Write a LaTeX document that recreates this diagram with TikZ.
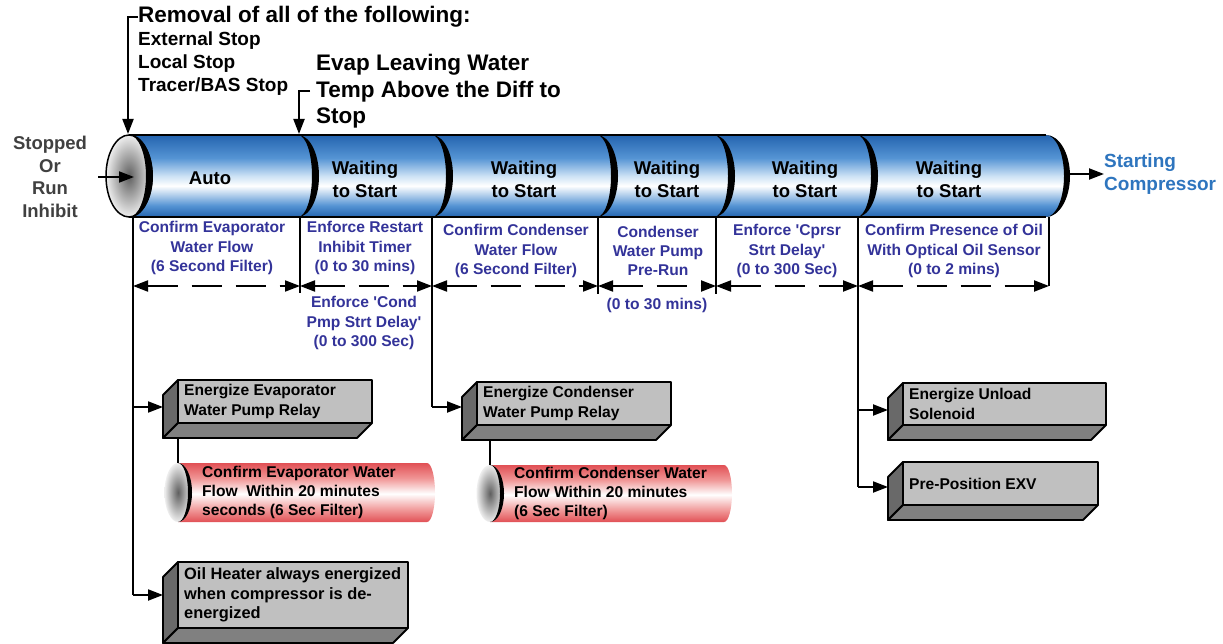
\documentclass[tikz,border=0pt]{standalone}
\usepackage{fontspec}
\setmainfont{Liberation Sans}
\usetikzlibrary{arrows.meta}
\definecolor{navy}{RGB}{51,51,153}
\definecolor{startblue}{RGB}{46,117,190}
\definecolor{stopgray}{RGB}{64,64,64}
\definecolor{cb1}{RGB}{36,100,175}
\definecolor{cb2}{RGB}{85,148,212}
\definecolor{cb3}{RGB}{205,226,245}
\definecolor{cr1}{RGB}{225,80,85}
\definecolor{cr2}{RGB}{240,150,150}
\definecolor{boxlight}{RGB}{192,192,192}
\definecolor{boxside}{RGB}{105,105,105}
\definecolor{boxbot}{RGB}{128,128,128}
\definecolor{capin}{RGB}{95,95,95}
\definecolor{capout}{RGB}{238,238,238}
\pgfdeclareverticalshading{bluecyl}{100bp}{color(0bp)=(cb1); color(25bp)=(cb1); color(32bp)=(cb2); color(44bp)=(white); color(50bp)=(cb3); color(61bp)=(cb2); color(75bp)=(cb1); color(100bp)=(cb1)}
\pgfdeclareverticalshading{redcyl}{100bp}{color(0bp)=(cr1); color(25bp)=(cr1); color(35bp)=(cr2); color(49bp)=(white); color(62bp)=(cr2); color(75bp)=(cr1); color(100bp)=(cr1)}
\newcommand\threedbox[7][]{%
  \filldraw[boxsideface] (#3,#4) -- ({#3-15},{#4+15}) -- ({#3-15},{#6+15}) -- (#3,#6) -- cycle;
  \filldraw[boxbotface] (#3,#6) -- (#5,#6) -- ({#5-15},{#6+15}) -- ({#3-15},{#6+15}) -- cycle;
  \filldraw[boxfrontface] (#3,#4) rectangle (#5,#6);
  \node[btxt,#1] (#2) at ({#3+6},{(#4+#6)/2}) {#7};
}
\newcommand\redcylinder[6]{% name, cap x, top y, bottom y, right x, text
  \pgfmathsetmacro\ym{(#3+#4)/2}
  \pgfmathsetmacro\ry{(#4-#3)/2}
  \pgfmathsetmacro\xe{#5-8}
  \shade[shading=redcyl] (#2,#3) -- (\xe,#3) [rhe={\xe}{\ym}{8}{\ry}] -- (#2,#4) -- cycle;
  \shade[inner color=capin, outer color=capout] (#2,\ym) ellipse [x radius=13.5, y radius=\ry];
  \fill (#2,#3) [rhe={#2}{\ym}{14}{\ry}] [rheu={#2}{\ym}{10}{\ry}] -- cycle;
  \node[btxt] (#1) at ({#2+24},\ym) {#6};
}
\begin{document}
\begin{tikzpicture}[x=1pt,y=-1pt,
  rhe/.style n args={4}{insert path={.. controls ({#1+0.5523*#3},{#2-#4}) and ({#1+#3},{#2-0.5523*#4}) .. ({#1+#3},#2) .. controls ({#1+#3},{#2+0.5523*#4}) and ({#1+0.5523*#3},{#2+#4}) .. (#1,{#2+#4})}},
  rheu/.style n args={4}{insert path={.. controls ({#1+0.5523*#3},{#2+#4}) and ({#1+#3},{#2+0.5523*#4}) .. ({#1+#3},#2) .. controls ({#1+#3},{#2-0.5523*#4}) and ({#1+0.5523*#3},{#2-#4}) .. (#1,{#2-#4})}},
  conn/.style={line width=2pt},
  arr/.style={line width=2pt,-{Triangle[length=15pt,width=11pt]}},
  dimline/.style={line width=2pt,dash pattern=on 30pt off 14pt,{Triangle[length=15pt,width=11pt]}-{Triangle[length=15pt,width=11pt]}},
  seg/.style={font=\fontsize{18.5}{23}\selectfont\bfseries,align=center,inner sep=0pt},
  lbl/.style={text=navy,font=\fontsize{15.6}{19.3}\selectfont\bfseries,align=center,inner sep=0pt},
  btxt/.style={font=\fontsize{15.6}{19.3}\selectfont\bfseries,align=left,inner sep=0pt,anchor=west},
  bigtxt/.style={font=\fontsize{16.4}{19.5}\selectfont\bfseries},
  head/.style={font=\fontsize{22.5}{26.5}\selectfont\bfseries,align=left,inner sep=0pt,anchor=west},
  subhead/.style={font=\fontsize{19}{23}\selectfont\bfseries,align=left,inner sep=0pt,anchor=west},
  boxfrontface/.style={fill=boxlight,draw=black,line width=1.8pt,line join=round},
  boxsideface/.style={fill=boxside,draw=black,line width=1.8pt,line join=round},
  boxbotface/.style={fill=boxbot,draw=black,line width=1.8pt,line join=round},
]
\useasboundingbox (0,0) rectangle (1223,644);

% ---------- main cylinder ----------
\shade[shading=bluecyl] (129,135) -- (1046,135) [rhe={1046}{176}{23}{41}] -- (129,217) -- cycle;
\draw[line width=2pt] (129,135) -- (1046,135);
\draw[line width=2pt] (129,217) -- (1046,217);
\foreach \bx in {298,432,597,714,857}
  \fill (\bx,135) [rhe={\bx}{176}{21}{41}] [rheu={\bx}{176}{14}{41}] -- cycle;
\fill (1046,135) [rhe={1046}{176}{24}{41}] [rheu={1046}{176}{18}{41}] -- cycle;
\shade[inner color=capin, outer color=capout] (129,176) ellipse [x radius=23, y radius=41];
\draw[line width=1.5pt] (129,176) ellipse [x radius=23, y radius=41];
\fill (129,135) [rhe={129}{176}{24}{41}] [rheu={129}{176}{17}{41}] -- cycle;

% named points on the cylinder
\coordinate (c0) at (128,134);
\coordinate (c1) at (299,134);
\coordinate (cin) at (134,177);
\coordinate (cout) at (1069,174);

% ---------- segment texts ----------
\node[seg] (auto) at (210,178) {Auto};
\node[seg] (w1) at (365,179.5) {Waiting\\to Start};
\node[seg] (w2) at (524,179.5) {Waiting\\to Start};
\node[seg] (w3) at (667,179.5) {Waiting\\to Start};
\node[seg] (w4) at (805,179.5) {Waiting\\to Start};
\node[seg] (w5) at (949,179.5) {Waiting\\to Start};

% ---------- top texts and arrows ----------
\node[head] (rem) at (138,17) {Removal of all of the following:};
\node[subhead] (stops) at (138,64) {External Stop\\Local Stop\\Tracer/BAS Stop};
\node[head] (evap) at (316,91.5) {Evap Leaving Water\\Temp Above the Diff to\\Stop};
\draw[arr] (rem.west) -| (c0);
\coordinate (evapst) at (310,91);
\draw[arr] (evapst) -| (c1);

% ---------- left / right ----------
\node[font=\fontsize{18.5}{22.6}\selectfont\bfseries,text=stopgray,align=center,inner sep=0pt] (stop) at (50,177) {Stopped\\Or\\Run\\Inhibit};
\coordinate (inst) at (98,177);
\draw[arr] (inst) -- (cin);
\node[font=\fontsize{19}{23}\selectfont\bfseries,text=startblue,align=left,inner sep=0pt,anchor=west] (start) at (1104,174) {Starting\\Compressor};
\draw[arr] (cout) -- (start.west);

% ---------- blue labels ----------
\node[lbl] (cew) at (212,248) {Confirm Evaporator\\Water Flow\\(6 Second Filter)};
\node[lbl] (ert) at (365,248) {Enforce Restart\\Inhibit Timer\\(0 to 30 mins)};
\node[lbl] (ecp) at (364,323) {Enforce \textquotesingle Cond\\Pmp Strt Delay\textquotesingle\\(0 to 300 Sec)};
\node[lbl] (ccw) at (516,251) {Confirm Condenser\\Water Flow\\(6 Second Filter)};
\node[lbl] (cwp) at (658,251) {Condenser\\Water Pump\\Pre-Run};
\node[lbl] (t30) at (657,305) {(0 to 30 mins)};
\node[lbl] (ecs) at (787,251) {Enforce \textquotesingle Cprsr\\Strt Delay\textquotesingle\\(0 to 300 Sec)};
\node[lbl] (cpo) at (954,251) {Confirm Presence of Oil\\With Optical Oil Sensor\\(0 to 2 mins)};

% ---------- vertical tick lines ----------
\foreach \n/\vx/\vb in {a/133/595, b/300/293, c/432/407, d/598/294, e/716/294, f/858/487, g/1049/286} {
  \coordinate (t\n) at (\vx,217);
  \coordinate (b\n) at (\vx,\vb);
  \coordinate (d\n) at (\vx,286);
}
\draw[conn] (ta) -- (ba);
\draw[conn] (tb) -- (bb);
\draw[conn] (tc) -- (bc);
\draw[conn] (td) -- (bd);
\draw[conn] (te) -- (be);
\draw[conn] (tf) -- (bf);
\draw[conn] (tg) -- (bg);

% ---------- dimension arrows ----------
\draw[dimline] (da) -- (db);
\draw[dimline] (db) -- (dc);
\draw[dimline] (dc) -- (dd);
\draw[dimline] (dd) -- (de);
\draw[dimline] (de) -- (df);
\draw[dimline] (df) -- (dg);

% ---------- boxes ----------
\threedbox{bxevap}{178}{380}{372}{423}{Energize Evaporator\\Water Pump Relay}
\threedbox[bigtxt]{bxoil}{178}{562}{408}{628}{Oil Heater always energized\\when compressor is de-\\energized}
\threedbox{bxcond}{477}{382}{671}{425}{Energize Condenser\\Water Pump Relay}
\threedbox{bxunl}{903}{383}{1106}{425}{Energize Unload\\Solenoid}
\threedbox{bxexv}{903}{462}{1098}{505}{Pre-Position EXV}

\coordinate (j1) at (133,407); \coordinate (e1) at (163,407);
\coordinate (e2) at (163,595);
\coordinate (e3) at (462,407);
\coordinate (j4) at (858,410); \coordinate (e4) at (888,410);
\coordinate (e5) at (888,487);
\draw[arr] (j1) -- (e1);
\draw[arr] (ba) -- (e2);
\draw[arr] (bc) -- (e3);
\draw[arr] (j4) -- (e4);
\draw[arr] (bf) -- (e5);

% ---------- red cylinders ----------
\redcylinder{rcevap}{178}{463}{522}{435}{Confirm Evaporator Water\\Flow\ \ Within 20 minutes\\seconds (6 Sec Filter)}
\redcylinder{rccond}{490}{465}{522}{732}{Confirm Condenser Water\\Flow Within 20 minutes\\(6 Sec Filter)}
\coordinate (rb1) at (178,438); \coordinate (rt1) at (178,463);
\coordinate (rb2) at (490,440); \coordinate (rt2) at (490,465);
\draw[conn] (rb1) -- (rt1);
\draw[conn] (rb2) -- (rt2);
\end{tikzpicture}
\end{document}
